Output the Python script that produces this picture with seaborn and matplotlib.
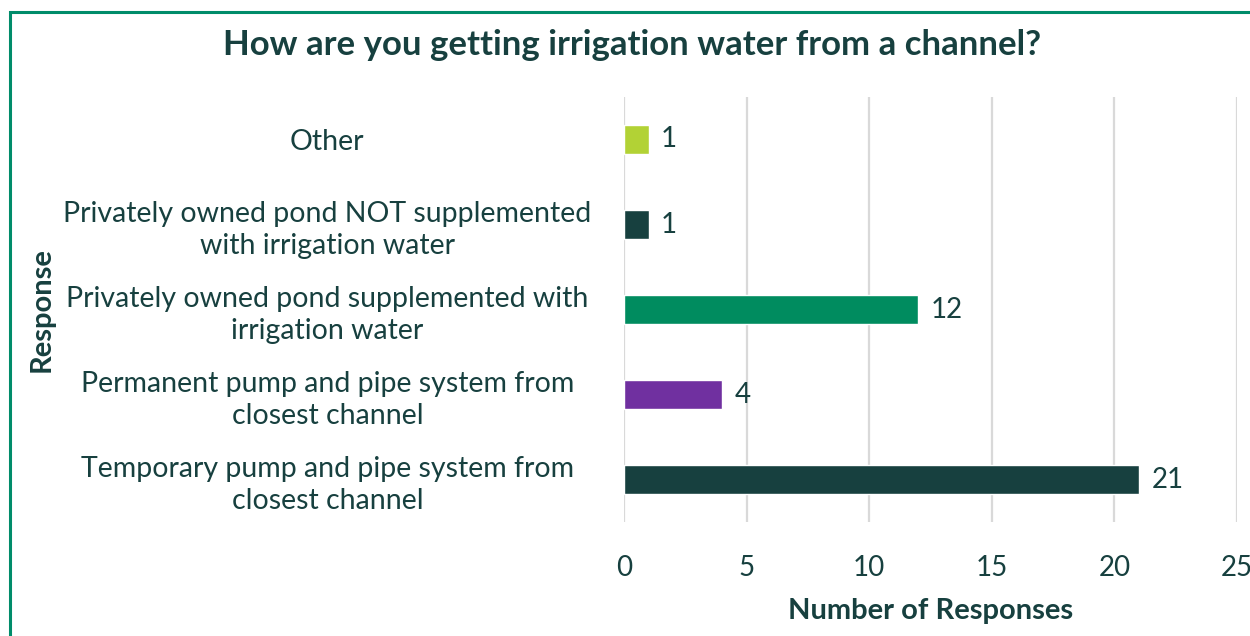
import matplotlib.pyplot as plt
import matplotlib.patches as mpatches
import pandas as pd
import seaborn as sns

# chart data
responses = [
    "Other",
    "Privately owned pond NOT supplemented\nwith irrigation water",
    "Privately owned pond supplemented with\nirrigation water",
    "Permanent pump and pipe system from\nclosest channel",
    "Temporary pump and pipe system from\nclosest channel",
]
counts = [1, 1, 12, 4, 21]
bar_colors = ["#B2D235", "#17403F", "#008C5F", "#7030A0", "#17403F"]
x_ticks = [0, 5, 10, 15, 20, 25]

text_color = "#17403F"

sns.set_style("white")
plt.rcParams["font.family"] = ["Lato", "DejaVu Sans"]

df = pd.DataFrame({"Response": responses, "Count": counts})

fig = plt.figure(figsize=(12.5, 6.36), dpi=100)
ax = fig.add_axes([0.4992, 0.1792, 0.4904, 0.6683])

sns.barplot(data=df, y="Response", x="Count", hue="Response",
            palette=bar_colors, width=0.35, legend=False, ax=ax,
            saturation=1)

ax.set_xlim(0, 25)
ax.set_ylim(4.5, -0.5)
ax.set_xticks(x_ticks)
ax.grid(axis="x", color="#D9D9D9", linewidth=1.6)
ax.set_axisbelow(True)
for s in ax.spines.values():
    s.set_visible(False)
ax.tick_params(axis="both", length=0, labelsize=20, colors=text_color)
ax.tick_params(axis="x", pad=24)

# y labels centred in their own column left of the axes
ax.set_yticks(range(len(responses)))
ax.set_yticklabels(responses, ha="center", multialignment="center",
                   linespacing=1.3, fontsize=20.5)
for lbl in ax.get_yticklabels():
    lbl.set_x(-0.476)

for i, v in enumerate(counts):
    ax.annotate(str(v), (v, i), xytext=(9, 0), textcoords="offset points",
                va="center", ha="left", fontsize=20, color=text_color)

ax.set_xlabel("Number of Responses", fontsize=21, fontweight="bold",
              color=text_color, labelpad=12)
ax.set_ylabel("")
fig.text(0.033, 0.514, "Response", rotation=90, fontsize=21,
         fontweight="bold", color=text_color, ha="center", va="center")
fig.text(0.506, 0.929, "How are you getting irrigation water from a channel?",
         fontsize=25, fontweight="bold", color=text_color,
         ha="center", va="center")

# green frame around the chart
fig.patches.append(mpatches.Rectangle((10 / 1250, -0.2), 1.2, 1.2 - 12 / 636,
                                      transform=fig.transFigure,
                                      fill=False, edgecolor="#008C6A",
                                      linewidth=2.2))

fig.savefig("out.png", dpi=100)
